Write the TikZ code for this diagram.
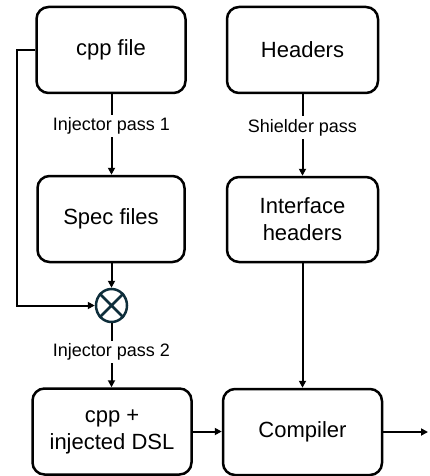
\documentclass[tikz,border=0pt]{standalone}
\usepackage{fontspec}
\setmainfont{Liberation Sans}
\usetikzlibrary{arrows.meta,shapes.geometric}
\definecolor{circ}{HTML}{0E2E3B}
\begin{document}
\begin{tikzpicture}[x=1pt,y=-1pt,
  box/.style={draw, line width=2.5pt, rounded corners=12pt, inner sep=0pt, align=center, font=\fontsize{22}{27}\selectfont},
  lbl/.style={fill=white, inner xsep=2pt, inner ysep=3pt, font=\fontsize{18}{22}\selectfont},
  conn/.style={line width=2pt, -{Triangle[length=7pt,width=7pt]}},
  plain/.style={line width=2pt}]
\useasboundingbox (0,0) rectangle (429,476);
\node[box, minimum width=149pt, minimum height=86pt] (cpp) at (111,50) {cpp file};
\node[box, minimum width=151pt, minimum height=86pt] (hdr) at (302.5,50) {Headers};
\node[box, minimum width=147pt, minimum height=86pt] (spec) at (111,219) {Spec files};
\node[box, minimum width=151pt, minimum height=85pt] (intf) at (302.5,219.5) {Interface\\headers};
\node[box, minimum width=159pt, minimum height=86pt] (inj) at (112,431.5) {cpp +\\injected DSL};
\node[box, minimum width=159pt, minimum height=86pt] (comp) at (302.5,432) {Compiler};
\node[draw=circ, line width=2.5pt, ellipse, minimum width=31pt, minimum height=33pt, inner sep=0pt] (mix) at (111.5,305.5) {};
\draw[circ, line width=2.5pt] (mix.45) -- (mix.225) (mix.135) -- (mix.315);
\coordinate (k1) at (17,50);
\coordinate (k2) at (17,305.5);
\coordinate (out) at (428,432);
\draw[conn] (cpp.south -| mix.south) -- (spec.north -| mix.south);
\draw[conn] (hdr.south) -- (intf.north -| hdr.south);
\draw[conn] (spec.south -| mix.north) -- (mix.north);
\draw[conn] (mix.south) -- (inj.north -| mix.south);
\draw[conn] (cpp.west) -- (k1) -- (k2) -- (mix.west);
\draw[conn] (intf.south) -- (comp.north -| intf.south);
\draw[conn] (inj.east) -- (comp.west |- inj.east);
\draw[conn] (comp.east) -- (out);
\node[lbl] (l1) at (111.5,126) {Injector pass 1};
\node[lbl] (l2) at (302.5,127.5) {Shielder pass};
\node[lbl] (l3) at (111.5,352) {Injector pass 2};
\end{tikzpicture}
\end{document}
